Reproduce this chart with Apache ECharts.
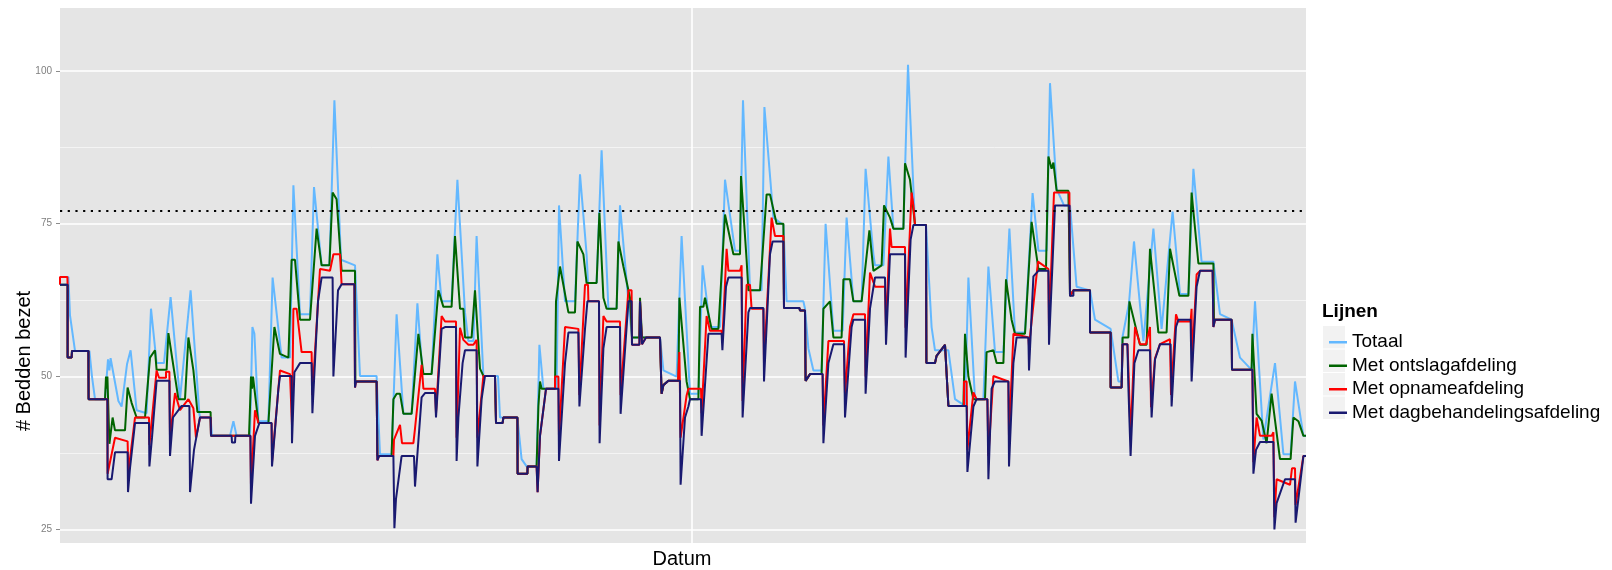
<!DOCTYPE html>
<html>
<head>
<meta charset="utf-8">
<title>Bedden bezet</title>
<script src="https://cdn.jsdelivr.net/npm/echarts@6/dist/echarts.min.js"></script>
<style>
  html, body { margin: 0; padding: 0; background: #fff; }
  #chart { width: 1612px; height: 570px; }
</style>
</head>
<body>
<div id="chart"></div>
<script>
// [dag, aantal bedden bezet]
const totaal = [
  [0,66.3],[0.42,66.3],[0.5,60],[0.75,54.2],[1.47,54.2],[1.6,50],[1.75,46.3],[2.25,46.3],[2.4,52.8],[2.47,51],[2.53,53],[2.63,53],
  [2.92,46],[3.08,45.1],[3.35,52],[3.53,54.3],[3.83,44.5],[4.33,44],[4.55,61.1],[4.83,52.2],[5.2,52.2],[5.53,63],[6.0,46.3],
  [6.53,64.1],[6.97,43.9],[7.0,43.3],[7.53,43.3],[7.6,40.3],[8.5,40.3],[8.67,42.7],[8.83,40.3],[9.5,40.3],[9.62,58.1],[9.72,57],
  [9.92,42.7],[10.42,42.7],[10.63,66.2],[11.08,53.1],[11.5,53.1],[11.67,81.3],[12.0,60.2],[12.5,60.2],[12.7,81],[13.08,68.2],
  [13.47,68.2],[13.72,95.2],[13.8,95.2],[14.05,69.1],[14.75,68.2],[15.0,50.1],[15.83,50.1],[16.0,37.3],[16.58,37.3],[16.83,60.2],[17.17,43.9],
  [17.58,43.9],[17.87,62],[18.13,50.4],[18.58,50.4],[18.87,70],[19.08,62.3],[19.58,62.3],[19.87,82.2],[20.25,60.5],[20.42,55.8],
  [20.67,55.8],[20.83,73],[21.17,50.1],[21.9,50.1],[22.0,43.3],[22.87,43.3],[23.08,36.5],[23.33,35.3],[23.83,35.3],[23.97,55.2],
  [24.17,48],[24.83,48],[24.95,78],[25.25,62.3],[25.75,62.3],[26.0,83.1],[26.33,70],[26.4,65.3],[26.83,65.3],[27.08,87],
  [27.42,61.1],[27.83,61.1],[28.0,78],[28.42,62.3],[28.6,56.4],[30.0,56.4],[30.17,51],[30.83,50],[31.08,73],[31.5,47.2],
  [31.92,47.2],[32.13,68.2],[32.5,58.1],[33.0,58.1],[33.25,82.2],[33.75,70.6],[34.0,70.6],[34.15,95.2],[34.22,95.2],[34.5,64.1],[35.08,64.1],
  [35.22,94.1],[35.3,94.1],[35.67,76],[36.17,74.8],[36.33,62.3],[37.17,62.3],[37.25,61.1],[37.42,54.6],[37.67,51],[38.08,51],[38.28,75],
  [38.67,57.5],[39.13,57.5],[39.33,76],[39.67,62.3],[40.08,62.3],[40.28,84],[40.67,70],[40.75,68.2],[41.17,68.2],[41.42,86],
  [41.67,74.2],[42.17,74.2],[42.4,101],[42.47,101],[42.75,74.8],[43.3,74.8],[43.58,58.1],[43.75,54.3],[44.42,54.3],[44.75,46.3],[45.25,45.2],
  [45.42,66.2],[45.75,46.3],[46.17,46.3],[46.42,68],[46.75,54],[47.17,54],[47.47,74.2],[47.75,57.2],[48.25,57.2],[48.63,80],
  [48.92,70.6],[49.33,70.6],[49.5,98],[49.57,98],[49.83,80.7],[50.2,78],[50.5,78],[50.83,64.7],[51.5,64.1],[51.75,59.3],[52.53,57.8],
  [52.92,49.2],[53.08,49.2],[53.12,56.4],[53.45,62],[53.7,72.1],[54.17,55.8],[54.67,74.2],[55.08,57.8],[55.63,77],[56.0,63.5],
  [56.42,63.5],[56.67,84],[57.08,68.8],[57.67,68.8],[58.0,60.2],[58.58,59.3],[59.0,53.1],[59.58,51.1],[59.75,62.3],[60.17,39.7],
  [60.75,52.2],[61.17,37.3],[61.53,37.3],[61.75,49.2],[62.17,40.3],[62.3,40.3]
];

const metOntslag = [
  [0,65],[0.38,65],[0.38,53.1],[0.58,53.1],[0.6,54.2],[1.42,54.2],[1.43,46.3],[2.25,46.3],[2.3,50],[2.33,48],[2.37,50],[2.47,39],
  [2.63,43.3],[2.75,41.2],[3.25,41.2],[3.38,48.2],[3.58,45.7],[3.83,43.3],[4.25,43.3],[4.5,53.1],[4.75,54.3],[4.83,51.1],[5.33,51.1],
  [5.42,57.1],[5.92,46.3],[6.25,46.3],[6.42,56.4],[6.67,51],[6.87,44.2],[7.53,44.2],[7.55,40.3],[9.45,40.3],[9.5,45],[9.55,50],
  [9.6,48],[9.65,50],[9.92,42.4],[10.42,42.4],[10.72,58.1],[11.0,53.7],[11.42,53.1],[11.58,69.1],[11.75,69.1],[12.0,59.3],
  [12.5,59.3],[12.83,74.2],[13.08,68.2],[13.47,68.2],[13.63,80.1],[13.83,79],[14.08,67.3],[14.75,67.3],[14.77,49.2],[15.83,49.2],
  [15.87,37],[16.58,37],[16.67,46.3],[16.83,47.2],[17.0,47.2],[17.17,43.9],[17.58,43.9],[17.92,57],[18.17,50.4],[18.58,50.4],
  [18.92,64.1],[19.17,61.4],[19.58,61.4],[19.75,73],[20.0,61.1],[20.17,61.1],[20.25,56.4],[20.58,56.4],[20.75,64.1],[21.0,51.3],
  [21.17,50.1],[21.75,50.1],[21.8,42.4],[22.13,42.4],[22.17,43.3],[22.87,43.3],[22.88,34.1],[23.37,34.1],[23.38,35.3],[23.83,35.3],
  [23.92,45.1],[24.0,49.2],[24.08,48],[24.75,48],[24.8,62.3],[25.0,68],[25.42,60.5],[25.75,60.5],[25.87,72.1],[26.17,70],
  [26.33,65.3],[26.83,65.3],[26.97,76.8],[27.17,62.9],[27.33,61.1],[27.83,61.1],[27.92,72.1],[28.17,68],[28.5,62.9],[28.6,56.4],
  [28.97,56.4],[29.0,62.9],[29.07,62.9],[29.1,56.4],[30.0,56.4],[30.08,47.2],[30.17,48.6],[30.42,49.3],[30.92,49.3],[30.97,62.9],
  [31.03,62.9],[31.33,49.2],[31.5,46.3],[31.92,46.3],[32.0,61.4],[32.17,61.4],[32.25,62.9],[32.58,57.8],[32.92,57.8],[33.25,76.5],
  [33.67,70],[34.0,70],[34.05,82.8],[34.1,82.8],[34.33,69.1],[34.42,64.1],[35.0,64.1],[35.33,79.8],[35.5,79.8],[35.83,75],
  [36.17,75],[36.2,61.2],[36.97,61.2],[37.0,60.8],[37.25,60.8],[37.28,49.3],[37.5,50.4],[38.08,50.4],[38.17,61.1],[38.5,62.3],
  [38.67,56.4],[39.08,56.4],[39.17,65.9],[39.5,65.9],[39.67,62.3],[40.08,62.3],[40.47,73.9],[40.67,67.3],[41.08,68.2],[41.2,78],
  [41.5,76],[41.67,74.2],[42.17,74.2],[42.25,84.9],[42.5,82.2],[42.58,82.2],[42.75,74.8],[43.3,74.8],[43.32,52.2],[43.75,52.2],
  [43.83,53.4],[44.25,55.2],[44.35,55.2],[44.42,45.2],[45.17,45.2],[45.25,57],[45.42,50],[45.67,46.3],[46.25,46.3],[46.33,54],
  [46.67,54.3],[46.83,52.2],[47.17,52.2],[47.3,65.9],[47.58,59.3],[47.75,57],[48.25,57],[48.58,75.3],[48.92,67.6],[49.3,67.6],
  [49.42,86],[49.58,84],[49.67,85],[49.83,80.4],[50.42,80.4],[50.5,63.2],[50.67,64.1],[51.5,64.1],[51.5,57.2],[52.53,57.2],
  [52.53,48.2],[53.08,48.2],[53.13,56.4],[53.42,56.4],[53.47,62.3],[54.0,55.2],[54.33,55.2],[54.5,70.9],[54.75,62.9],[54.92,57.2],
  [55.33,57.2],[55.5,70.9],[55.97,63.2],[56.42,63.2],[56.58,80.1],[56.92,68.5],[57.67,68.5],[57.7,59.3],[58.58,59.3],[58.6,51.1],
  [59.58,51.1],[59.62,57],[59.67,57],[59.83,43.9],[60.08,42.8],[60.33,39.1],[60.58,47.2],[60.67,47.2],[61.0,36.5],[61.53,36.5],
  [61.67,43.3],[61.92,42.7],[62.17,40.3],[62.3,40.3]
];

const metOpname = [
  [0,65],[0,66.3],[0.37,66.3],[0.38,65],[0.38,53.1],[0.58,53.1],[0.6,54.2],[1.42,54.2],[1.43,46.3],[2.37,46.3],[2.38,34.1],
  [2.47,34.1],[2.75,40],[3.38,39.4],[3.42,34.4],[3.75,43.3],[4.45,43.3],[4.47,38.8],[4.83,51],[4.95,49.8],[5.3,49.8],[5.3,50.8],
  [5.47,50.8],[5.5,40],[5.75,47.3],[6.0,44.5],[6.42,46.3],[6.67,44.8],[6.8,40],[7.0,43.3],[7.53,43.3],[7.55,40.3],[9.52,40.3],
  [9.55,32],[9.75,44.5],[9.92,42.4],[10.58,42.4],[10.6,36],[11.0,51],[11.5,50.4],[11.6,42],[11.67,61.1],[11.83,61.1],[12.08,54],
  [12.58,54],[12.62,47],[13.0,67.6],[13.5,67.3],[13.67,70],[14.0,70],[14.08,65.1],[14.72,65.1],[14.75,48.2],[14.8,49.2],
  [15.83,49.2],[15.87,36.3],[15.95,37],[16.67,37],[16.7,39.7],[17.0,42.1],[17.1,39.1],[17.67,39.1],[17.75,41.5],[18.08,51.9],
  [18.17,48],[18.75,48],[18.8,44],[19.08,59.9],[19.25,59],[19.8,59],[19.83,40],[20.0,58],[20.17,56],[20.42,55.2],[20.67,55.2],
  [20.83,56],[20.87,40],[21.17,50.1],[21.75,50.1],[21.8,42.4],[22.13,42.4],[22.17,43.3],[22.87,43.3],[22.88,34.1],[23.37,34.1],
  [23.38,35.3],[23.83,35.3],[23.88,31.1],[24.0,40.3],[24.3,48],[24.75,48],[24.75,50],[24.92,50],[24.95,40],[25.25,58.1],
  [25.92,57.8],[25.97,47],[26.25,65],[26.4,65],[26.42,62.3],[26.95,62.3],[26.98,42],[27.17,59.9],[27.33,59],[28.0,59],[28.03,47],
  [28.42,64.1],[28.58,64.1],[28.6,55.2],[28.97,55.2],[29.0,62.3],[29.07,62.3],[29.1,55.3],[29.3,56.4],[30.0,56.4],[30.08,47.2],
  [30.17,48.6],[30.42,49.3],[30.9,49.3],[30.97,54],[31.03,40],[31.33,46.9],[31.42,48],[32.05,48],[32.08,44],[32.33,59.9],
  [32.5,57.5],[33.08,57.5],[33.12,56],[33.33,70.9],[33.42,67.3],[34.0,67.3],[34.08,68.2],[34.13,46],[34.33,65],[34.5,65],
  [34.58,61.1],[35.17,61.1],[35.2,52],[35.58,76],[35.67,76],[35.75,73],[36.17,73],[36.2,61.2],[36.97,61.2],[37.0,60.8],[37.25,60.8],
  [37.28,49.3],[37.5,50.4],[38.13,50.4],[38.17,42],[38.42,55.8],[39.2,55.8],[39.25,47],[39.5,58.1],[39.67,60.2],[40.25,60.2],
  [40.28,50],[40.5,67],[40.75,64.7],[41.25,64.7],[41.3,58],[41.5,74.2],[41.58,71.2],[42.25,71.2],[42.28,58],[42.58,80.1],
  [42.67,78],[42.75,74.8],[43.3,74.8],[43.32,52.2],[43.75,52.2],[43.83,53.4],[44.25,55.2],[44.35,55.2],[44.42,45.2],[45.2,45.2],
  [45.2,49.2],[45.33,49.2],[45.37,38],[45.67,47.4],[45.83,46.3],[46.37,46.3],[46.42,37],[46.67,50.1],[47.42,49.2],[47.45,40],
  [47.67,57],[48.42,56.4],[48.45,55],[48.9,68.8],[49.42,67.6],[49.45,58],[49.7,80.1],[50.47,80.1],[50.5,63.2],[50.67,64.1],
  [51.5,64.1],[51.5,57.2],[52.53,57.2],[52.53,48.2],[53.08,48.2],[53.13,55.3],[53.37,55.3],[53.42,51.3],[53.53,40],[53.75,58.1],
  [54.0,55.3],[54.3,55.3],[54.5,58.1],[54.55,45],[54.75,53],[55.0,55.3],[55.5,56.1],[55.55,47],[55.8,60.2],[55.92,59],[56.53,59],
  [56.58,61.1],[56.6,52],[56.83,66.7],[57.0,67.3],[57.63,67.3],[57.67,58.1],[57.75,59.3],[58.58,59.3],[58.6,51.1],[59.62,51.1],
  [59.67,36],[59.83,43.3],[60.0,40.3],[60.58,40.3],[60.67,40.9],[60.72,27],[60.83,33.2],[61.5,32.3],[61.6,35],[61.75,35],
  [61.78,29],[62.17,37],[62.3,37]
];

const metDagbehandeling = [
  [0,65],[0.38,65],[0.38,53.1],[0.58,53.1],[0.6,54.2],[1.42,54.2],[1.43,46.3],[2.37,46.3],[2.38,33.2],[2.58,33.2],[2.75,37.6],
  [3.38,37.6],[3.4,31.1],[3.5,35],[3.75,42.4],[4.45,42.4],[4.47,35.3],[4.6,40],[4.83,49.3],[5.47,49.3],[5.5,37],[5.65,43.3],
  [6.08,45.2],[6.47,45.2],[6.5,31.1],[6.7,38],[7.0,43.3],[7.53,43.3],[7.55,40.3],[8.58,40.3],[8.6,39.2],[8.75,39.2],[8.77,40.3],
  [9.52,40.3],[9.55,29.2],[9.63,29.2],[9.75,40.3],[9.97,42.4],[10.58,42.4],[10.6,35.3],[10.7,35.3],[10.92,48],[11.0,50.1],
  [11.58,50.1],[11.6,39.1],[11.72,50.7],[12.0,52.2],[12.58,52.2],[12.62,44],[12.9,62.3],[13.08,66.2],[13.63,66.2],[13.67,50],
  [13.9,64.1],[14.08,65.1],[14.72,65.1],[14.75,48.2],[14.8,49.2],[15.83,49.2],[15.87,36.3],[15.95,37],[16.67,37],[16.72,25.2],
  [16.8,30],[17.08,37],[17.7,37],[17.75,32],[18.08,46.6],[18.25,47.3],[18.75,47.3],[18.8,43.3],[19.08,57.8],[19.25,58.1],
  [19.8,58.1],[19.83,36.2],[19.92,43.3],[20.13,52.2],[20.25,54.3],[20.83,54.3],[20.87,35.3],[21.08,46.3],[21.25,50.1],[21.75,50.1],
  [21.8,42.4],[22.13,42.4],[22.17,43.3],[22.87,43.3],[22.88,34.1],[23.37,34.1],[23.38,35.3],[23.83,35.3],[23.88,31.1],[24.0,40.3],
  [24.3,48],[24.92,48],[24.95,36.2],[25.25,52.2],[25.42,57.2],[25.92,57.2],[25.97,45.1],[26.25,57.8],[26.37,62.3],[26.95,62.3],
  [26.98,39.1],[27.17,54.6],[27.33,58.1],[28.0,58.1],[28.03,43.9],[28.42,62.3],[28.58,62.3],[28.6,55.2],[28.97,55.2],[29.0,62.3],
  [29.07,62.3],[29.1,55.3],[29.3,56.4],[30.0,56.4],[30.08,47.2],[30.17,48.6],[30.42,49.3],[31.0,49.3],[31.03,32.3],[31.25,43.3],
  [31.42,45.1],[31.5,46.3],[32.05,46.3],[32.08,40.3],[32.42,57],[33.08,57],[33.12,54.3],[33.3,64.7],[33.42,66.2],[34.08,66.2],
  [34.13,43.3],[34.42,60.5],[34.5,61.2],[35.17,61.2],[35.2,49.2],[35.5,70],[35.63,72.1],[36.17,72.1],[36.2,61.2],[36.97,61.2],
  [37.0,60.8],[37.25,60.8],[37.28,49.3],[37.5,50.4],[38.13,50.4],[38.17,39.1],[38.42,52.2],[38.67,55.3],[39.2,55.3],[39.25,43.3],
  [39.58,58.1],[39.67,59.3],[40.25,59.3],[40.28,47.2],[40.5,61.1],[40.75,66.2],[41.25,66.2],[41.3,55.2],[41.5,70],[42.25,70],
  [42.28,53.1],[42.53,72.4],[42.67,74.8],[43.3,74.8],[43.32,52.2],[43.75,52.2],[43.83,53.4],[44.25,55.2],[44.35,55.2],[44.42,45.2],
  [45.33,45.2],[45.37,34.4],[45.67,45.1],[45.83,46.3],[46.37,46.3],[46.42,33.2],[46.58,48],[46.75,49.2],[47.42,49.2],[47.45,35.3],
  [47.67,52.2],[47.83,56.4],[48.42,56.4],[48.45,51],[48.67,66.4],[48.92,67.3],[49.42,67.3],[49.45,55.2],[49.75,78],[50.47,78],
  [50.5,63.2],[50.67,63.2],[50.67,64.1],[51.5,64.1],[51.5,57.2],[52.53,57.2],[52.53,48.2],[53.08,48.2],[53.13,55.3],[53.37,55.3],
  [53.42,48.2],[53.53,37],[53.72,52.2],[53.92,54.3],[54.5,54.3],[54.58,43.3],[54.75,52.8],[55.0,55.3],[55.53,55.3],[55.58,45.1],
  [55.8,58.1],[55.92,59.3],[56.53,59.3],[56.58,49.2],[56.83,64.7],[57.0,67.3],[57.63,67.3],[57.67,58.1],[57.75,59.3],[58.58,59.3],
  [58.6,51.1],[59.62,51.1],[59.67,34.1],[59.8,38],[60.0,39.3],[60.67,39.3],[60.72,25],[60.83,29.3],[61.25,33.2],[61.75,33.2],
  [61.78,26.1],[62.17,37],[62.3,37]
];

const lijnNamen = ['Totaal', 'Met ontslagafdeling', 'Met opnameafdeling', 'Met dagbehandelingsafdeling'];
const lijnKleuren = ['#63B8FF', '#006400', '#FF0000', '#191970'];
const drempel = 77.1;
const yLabels = [25, 50, 75, 100];

const font = '"Liberation Sans", Arial, sans-serif';
const chart = echarts.init(document.getElementById('chart'), null, { renderer: 'canvas' });

const reeksen = [totaal, metOntslag, metOpname, metDagbehandeling];
const series = reeksen.map(function (d, i) {
  const s = {
    name: lijnNamen[i],
    type: 'line',
    data: d,
    showSymbol: false,
    symbol: 'none',
    clip: true,
    silent: true,
    lineStyle: { color: lijnKleuren[i], width: 2 },
    itemStyle: { color: lijnKleuren[i] }
  };
  if (i === 3) {
    s.markLine = {
      silent: true,
      symbol: ['none', 'none'],
      label: { show: false },
      lineStyle: { color: '#000', width: 2.2, type: [2.2, 5.5] },
      data: [{ yAxis: drempel }]
    };
  }
  return s;
});

// grijze vakjes achter de legenda
const keyBoxes = [0, 1, 2, 3].map(function (i) {
  return {
    type: 'rect', z: 1,
    shape: { x: 1323, y: 326 + i * 23.5, width: 22, height: 22.5 },
    style: { fill: '#F2F2F2' }
  };
});

const option = {
  animation: false,
  backgroundColor: '#ffffff',
  grid: {
    left: 60, right: 306, top: -81.9, bottom: -112.2,
    outerBoundsMode: 'none',
    show: true, backgroundColor: '#E5E5E5', borderWidth: 0
  },
  xAxis: {
    type: 'value', min: 0, max: 62.3, interval: 31.6,
    axisLine: { show: false }, axisTick: { show: false }, axisLabel: { show: false },
    splitLine: { show: true, showMinLine: false, showMaxLine: false, lineStyle: { color: '#ffffff', width: 1.6 } }
  },
  yAxis: {
    type: 'value', min: 0, max: 125, interval: 25,
    axisLine: { show: false },
    axisTick: { show: true, length: 4, lineStyle: { color: '#8c8c8c', width: 1 } },
    axisLabel: {
      margin: 8, fontSize: 10, color: '#7f7f7f', fontFamily: font,
      formatter: function (v) { return yLabels.indexOf(v) >= 0 ? String(v) : ''; }
    },
    splitLine: { show: true, lineStyle: { color: '#ffffff', width: 1.6 } },
    minorTick: { show: false, splitNumber: 2 },
    minorSplitLine: { show: true, lineStyle: { color: '#f7f7f7', width: 0.8 } }
  },
  legend: {
    orient: 'vertical', left: 1324, top: 327,
    itemWidth: 18, itemHeight: 2.5, itemGap: 3, icon: 'rect',
    selectedMode: false,
    data: lijnNamen,
    textStyle: { fontSize: 19, lineHeight: 20.5, color: '#000', fontFamily: font }
  },
  graphic: [
    { type: 'rect', z: 50, silent: true, shape: { x: 0, y: 0, width: 1612, height: 8 }, style: { fill: '#ffffff' } },
    { type: 'rect', z: 50, silent: true, shape: { x: 54, y: 543, width: 1260, height: 27 }, style: { fill: '#ffffff' } }
  ].concat(keyBoxes).concat([
    {
      type: 'text', z: 60, x: 24, y: 361, rotation: Math.PI / 2,
      style: { text: '# Bedden bezet', fontSize: 20, fontFamily: font, fill: '#000', textAlign: 'center', textVerticalAlign: 'middle' }
    },
    {
      type: 'text', z: 60, x: 682, y: 559,
      style: { text: 'Datum', fontSize: 20, fontFamily: font, fill: '#000', textAlign: 'center', textVerticalAlign: 'middle' }
    },
    {
      type: 'text', z: 60, x: 1322, y: 312,
      style: { text: 'Lijnen', fontSize: 19, fontWeight: 'bold', fontFamily: font, fill: '#000', textAlign: 'left', textVerticalAlign: 'middle' }
    }
  ]),
  series: series
};

chart.setOption(option);
</script>
</body>
</html>
